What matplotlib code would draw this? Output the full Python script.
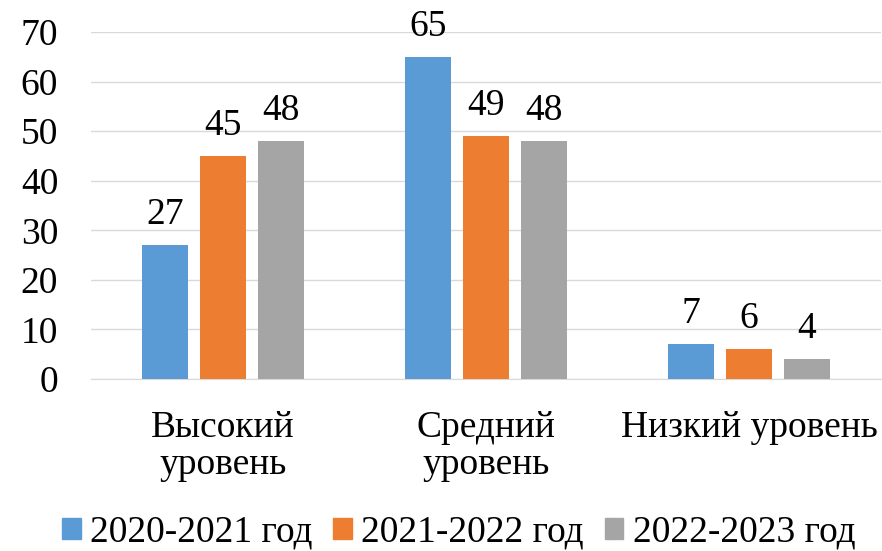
import numpy as np
import matplotlib.pyplot as plt
from matplotlib.patches import Patch

plt.rcParams['font.family'] = ['Liberation Serif', 'DejaVu Serif']

categories = ['Высокий\nуровень', 'Средний\nуровень', 'Низкий уровень']
series_names = ['2020-2021 год', '2021-2022 год', '2022-2023 год']
values_2020 = [27, 65, 7]
values_2021 = [45, 49, 6]
values_2022 = [48, 48, 4]
colors = ['#5B9BD5', '#ED7D31', '#A5A5A5']

fs = 27

fig = plt.figure(figsize=(8.82, 5.51), dpi=100)
ax = fig.add_axes([0.1037, 0.3121, 0.8946, 0.6299])

x = np.arange(len(categories))
width = 0.175
step = 0.22
all_series = [values_2020, values_2021, values_2022]

for i, (vals, col) in enumerate(zip(all_series, colors)):
    pos = x + (i - 1) * step
    bars = ax.bar(pos, vals, width=width, color=col, zorder=3)
    for b, v in zip(bars, vals):
        ax.annotate(str(v), (b.get_x() + b.get_width() / 2, v),
                    xytext=(0, 15), textcoords='offset points',
                    ha='center', va='baseline', fontsize=fs)

ax.set_xlim(-0.5, 2.5)
ax.set_ylim(0, 70)
ax.set_yticks(range(0, 71, 10))
ax.yaxis.grid(True, color='#D9D9D9', linewidth=1, zorder=0)
ax.tick_params(axis='y', length=0, labelsize=fs, pad=24)
ax.tick_params(axis='x', length=0, labelsize=fs, pad=23)
ax.set_xticks(x)
ax.set_xticklabels(categories, linespacing=1.08)
for s in ['top', 'right', 'left']:
    ax.spines[s].set_visible(False)
ax.spines['bottom'].set_color('#D9D9D9')

# легенда внизу, немного выше края, чтобы текст не обрезался
handles = [Patch(color=c, label=n) for c, n in zip(colors, series_names)]
fig.legend(handles=handles, loc='center', bbox_to_anchor=(0.52, 0.034),
           ncol=3, frameon=False, fontsize=fs, handlelength=0.5,
           handleheight=0.5, handletextpad=0.25, columnspacing=0.55,
           borderpad=0)

fig.savefig('out.png', dpi=100)
